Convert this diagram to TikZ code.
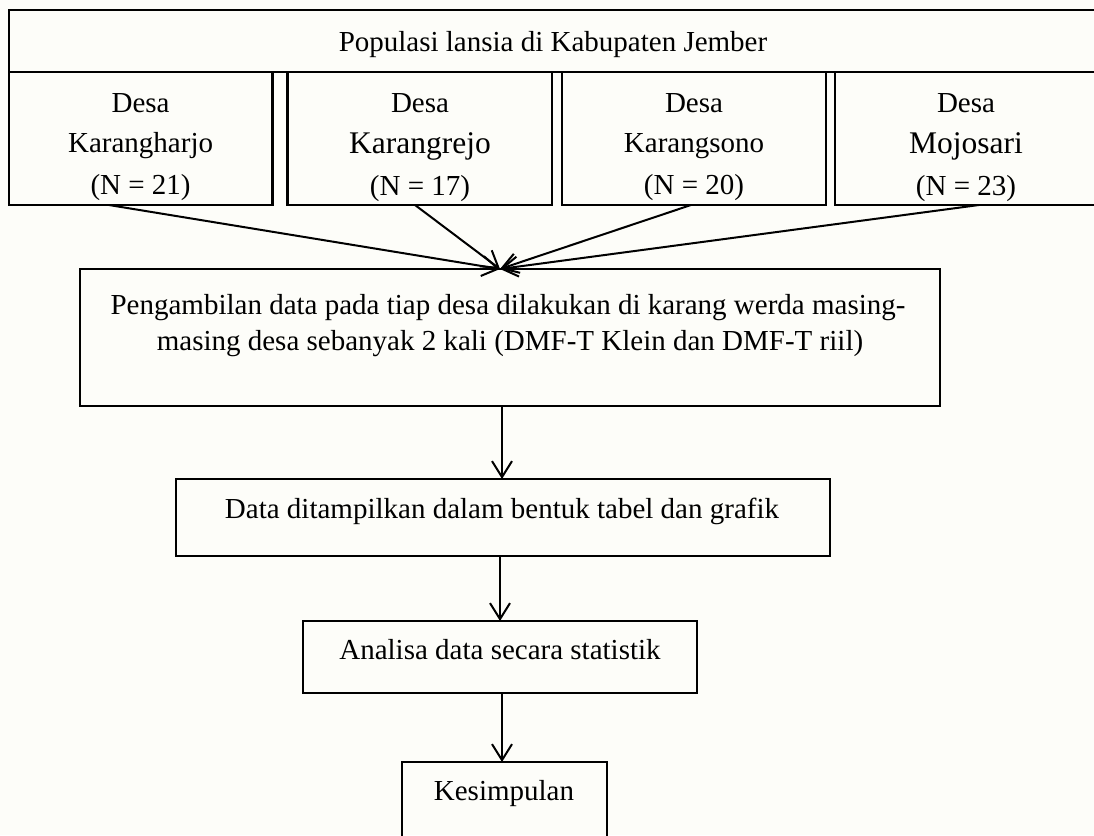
\documentclass[tikz,border=0pt]{standalone}
\usepackage{fontspec}
\setmainfont{Liberation Serif}
\usetikzlibrary{arrows.meta}
\definecolor{bgcol}{RGB}{253,253,249}
\begin{document}
\begin{tikzpicture}[x=1pt,y=-1pt,
  box/.style={draw, line width=2.4pt, rectangle, inner sep=0pt, outer sep=0pt},
  txt/.style={anchor=base, inner sep=0pt, font=\fontsize{29}{36}\selectfont},
  bigtxt/.style={anchor=base, inner sep=0pt, font=\fontsize{31.5}{38}\selectfont},
  arr/.style={line width=2pt, -{Straight Barb[length=16pt,width=20pt,line width=2pt]}}]
\fill[bgcol] (0,0) rectangle (1094,835);
\useasboundingbox (0,0) rectangle (1094,835);
\clip (0,0) rectangle (1094,835);

% top row
\node[box, minimum width=1091.2pt, minimum height=62pt] (pop) at (554.4,41) {};
\node[txt] (poptxt) at (553,51) {Populasi lansia di Kabupaten Jember};

% village boxes
\node[box, minimum width=263.7pt, minimum height=133pt] (v1) at (140.65,138.5) {};
\node[box, minimum width=264.4pt, minimum height=133pt] (v2) at (419.8,138.5) {};
\node[box, minimum width=264pt, minimum height=133pt] (v3) at (694,138.5) {};
\node[box, minimum width=265pt, minimum height=133pt] (v4) at (967.5,138.5) {};

\node[txt] (v1a) at (140.6,112) {Desa};
\node[txt] (v1b) at (140.6,152) {Karangharjo};
\node[txt] (v1c) at (140.6,194) {(N = 21)};

\node[txt] (v2a) at (420,112) {Desa};
\node[bigtxt] (v2b) at (420,153) {Karangrejo};
\node[txt] (v2c) at (420,195) {(N = 17)};

\node[txt] (v3a) at (694,112) {Desa};
\node[txt] (v3b) at (694,152) {Karangsono};
\node[txt] (v3c) at (694,194) {(N = 20)};

\node[txt] (v4a) at (966,112) {Desa};
\node[bigtxt] (v4b) at (966,153) {Mojosari};
\node[txt] (v4c) at (966,195) {(N = 23)};

% main box
\node[box, minimum width=860pt, minimum height=137pt] (main) at (510,337.5) {};
\node[txt] (m1) at (508,314) {Pengambilan data pada tiap desa dilakukan di karang werda masing-};
\node[txt] (m2) at (510,350) {masing desa sebanyak 2 kali (DMF-T Klein dan DMF-T riil)};

% data box
\node[box, minimum width=654pt, minimum height=77pt] (data) at (503,517.5) {};
\node[txt] (dtxt) at (502,518) {Data ditampilkan dalam bentuk tabel dan grafik};

% analisa box
\node[box, minimum width=394pt, minimum height=72pt] (ana) at (500,657) {};
\node[txt] (atxt) at (500,659) {Analisa data secara statistik};

% kesimpulan box
\node[box, minimum width=205pt, minimum height=138pt] (kes) at (504.5,831) {};
\node[txt] (ktxt) at (504,800) {Kesimpulan};

% arrows
\draw[arr] ([xshift=-31.8pt]v1.south) -- ([xshift=-10pt]main.north);
\draw[arr] ([xshift=-4.8pt]v2.south) -- ([xshift=-10pt]main.north);
\draw[arr] ([xshift=-3pt]v3.south) -- ([xshift=-10pt]main.north);
\draw[arr] ([xshift=11.5pt]v4.south) -- ([xshift=-10pt]main.north);

\draw[arr] ([xshift=-8pt]main.south) -- ([xshift=-1pt]data.north);
\draw[arr] ([xshift=-3pt]data.south) -- (ana.north);
\draw[arr] ([xshift=2pt]ana.south) -- ([xshift=-2.5pt]kes.north);
\end{tikzpicture}
\end{document}
